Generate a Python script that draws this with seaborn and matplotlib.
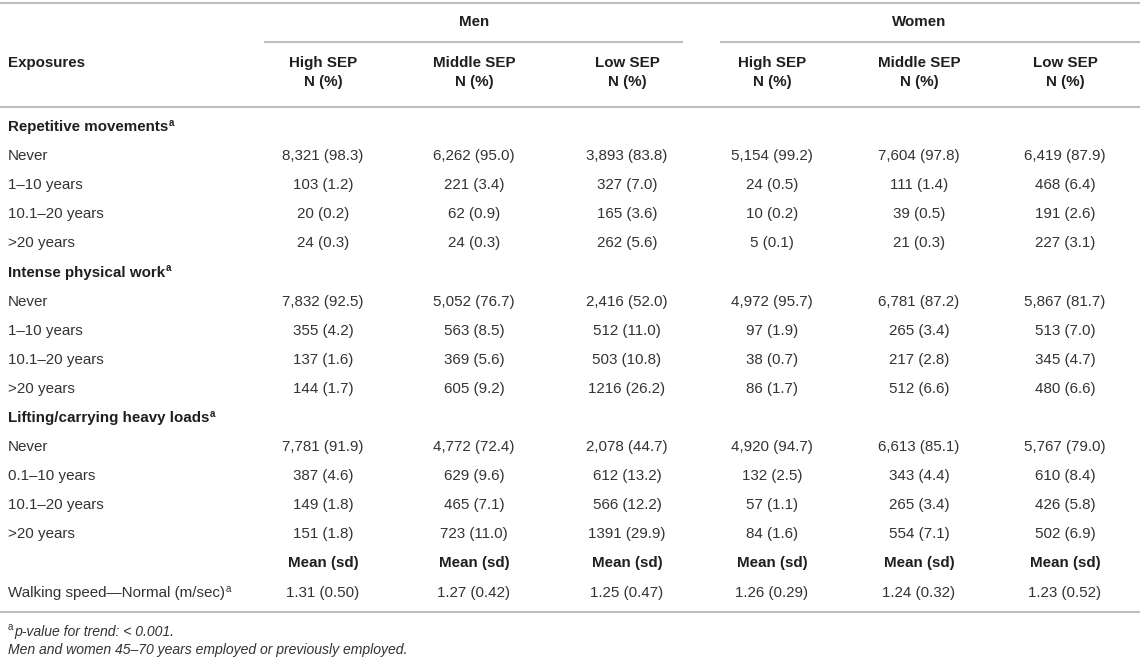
import matplotlib
matplotlib.use("Agg")
import matplotlib.pyplot as plt
import seaborn as sns

# Table content
groups = ["Men", "Women"]
sep_levels = ["High SEP", "Middle SEP", "Low SEP"]
sections = ["Repetitive movements", "Intense physical work", "Lifting/carrying heavy loads"]
durations = [
    ["Never", "1\u201310 years", "10.1\u201320 years", ">20 years"],
    ["Never", "1\u201310 years", "10.1\u201320 years", ">20 years"],
    ["Never", "0.1\u201310 years", "10.1\u201320 years", ">20 years"],
]

men_high = ["8,321 (98.3)", "103 (1.2)", "20 (0.2)", "24 (0.3)",
            "7,832 (92.5)", "355 (4.2)", "137 (1.6)", "144 (1.7)",
            "7,781 (91.9)", "387 (4.6)", "149 (1.8)", "151 (1.8)"]
men_mid = ["6,262 (95.0)", "221 (3.4)", "62 (0.9)", "24 (0.3)",
           "5,052 (76.7)", "563 (8.5)", "369 (5.6)", "605 (9.2)",
           "4,772 (72.4)", "629 (9.6)", "465 (7.1)", "723 (11.0)"]
men_low = ["3,893 (83.8)", "327 (7.0)", "165 (3.6)", "262 (5.6)",
           "2,416 (52.0)", "512 (11.0)", "503 (10.8)", "1216 (26.2)",
           "2,078 (44.7)", "612 (13.2)", "566 (12.2)", "1391 (29.9)"]
women_high = ["5,154 (99.2)", "24 (0.5)", "10 (0.2)", "5 (0.1)",
              "4,972 (95.7)", "97 (1.9)", "38 (0.7)", "86 (1.7)",
              "4,920 (94.7)", "132 (2.5)", "57 (1.1)", "84 (1.6)"]
women_mid = ["7,604 (97.8)", "111 (1.4)", "39 (0.5)", "21 (0.3)",
             "6,781 (87.2)", "265 (3.4)", "217 (2.8)", "512 (6.6)",
             "6,613 (85.1)", "343 (4.4)", "265 (3.4)", "554 (7.1)"]
women_low = ["6,419 (87.9)", "468 (6.4)", "191 (2.6)", "227 (3.1)",
             "5,867 (81.7)", "513 (7.0)", "345 (4.7)", "480 (6.6)",
             "5,767 (79.0)", "610 (8.4)", "426 (5.8)", "502 (6.9)"]

walking_label = "Walking speed\u2014Normal (m/sec)"
walking = ["1.31 (0.50)", "1.27 (0.42)", "1.25 (0.47)",
           "1.26 (0.29)", "1.24 (0.32)", "1.23 (0.52)"]

footnote_a = "p-value for trend: < 0.001."
footnote_2 = "Men and women 45\u201370 years employed or previously employed."

# Layout
sns.set_theme(style="white")
plt.rcParams["font.family"] = ["Liberation Sans", "DejaVu Sans"]

fig = plt.figure(figsize=(11.43, 6.59), dpi=100)
ax = fig.add_axes([0, 0, 1, 1])
ax.set_xlim(0, 1143)
ax.set_ylim(659, 0)
ax.axis("off")

line_col = "#bdbdbd"
head_col = "#1f1f1f"
body_col = "#333333"
fs = 10.9
fs_note = 10.1

col_x = [323, 474, 627, 772, 919, 1065]
group_x = [474, 919]
group_lines = [(264, 683), (720, 1140)]
left_x = 8

def sup(t, s="a", bold=False):
    ax.annotate(s, xy=(1, 1), xycoords=t, xytext=(0.5, 1.5),
                textcoords="offset points", ha="left", va="top",
                fontsize=7, color=t.get_color(),
                fontweight="bold" if bold else "normal")

# header rules
ax.hlines(3, 0, 1140, color=line_col, lw=1.5)
for (x0, x1) in group_lines:
    ax.hlines(42, x0, x1, color=line_col, lw=1.5)
ax.hlines(107, 0, 1140, color=line_col, lw=1.5)

for gx, g in zip(group_x, groups):
    ax.text(gx, 22, g, ha="center", va="center", fontsize=fs,
            fontweight="bold", color=head_col)

ax.text(left_x, 63, "Exposures", ha="left", va="center", fontsize=fs,
        fontweight="bold", color=head_col)
for i, x in enumerate(col_x):
    ax.text(x, 63, sep_levels[i % 3], ha="center", va="center", fontsize=fs,
            fontweight="bold", color=head_col)
    ax.text(x, 82, "N (%)", ha="center", va="center", fontsize=fs,
            fontweight="bold", color=head_col)

# body rows
cols = [men_high, men_mid, men_low, women_high, women_mid, women_low]
y0, step = 127, 29.1
r = 0
k = 0
for s, sec in enumerate(sections):
    y = y0 + r * step
    t = ax.text(left_x, y, sec, ha="left", va="center", fontsize=fs,
                fontweight="bold", color=head_col)
    sup(t, bold=True)
    r += 1
    for lab in durations[s]:
        y = y0 + r * step
        ax.text(left_x, y, lab, ha="left", va="center", fontsize=fs, color=body_col)
        for x, c in zip(col_x, cols):
            ax.text(x, y, c[k], ha="center", va="center", fontsize=fs, color=body_col)
        r += 1
        k += 1

y = y0 + r * step
for x in col_x:
    ax.text(x, y, "Mean (sd)", ha="center", va="center", fontsize=fs,
            fontweight="bold", color=head_col)
r += 1
y = y0 + r * step
t = ax.text(left_x, y, walking_label, ha="left", va="center", fontsize=fs, color=body_col)
sup(t)
for x, v in zip(col_x, walking):
    ax.text(x, y, v, ha="center", va="center", fontsize=fs, color=body_col)

ax.hlines(612, 0, 1140, color=line_col, lw=1.5)

ax.text(left_x, 627, "a", ha="left", va="center", fontsize=7,
        color=body_col)
ax.text(left_x + 6, 632, footnote_a, ha="left", va="center", fontsize=fs_note,
        style="italic", color=body_col)
ax.text(left_x, 650, footnote_2, ha="left", va="center", fontsize=fs_note,
        style="italic", color=body_col)

fig.savefig("out.png", dpi=100)
